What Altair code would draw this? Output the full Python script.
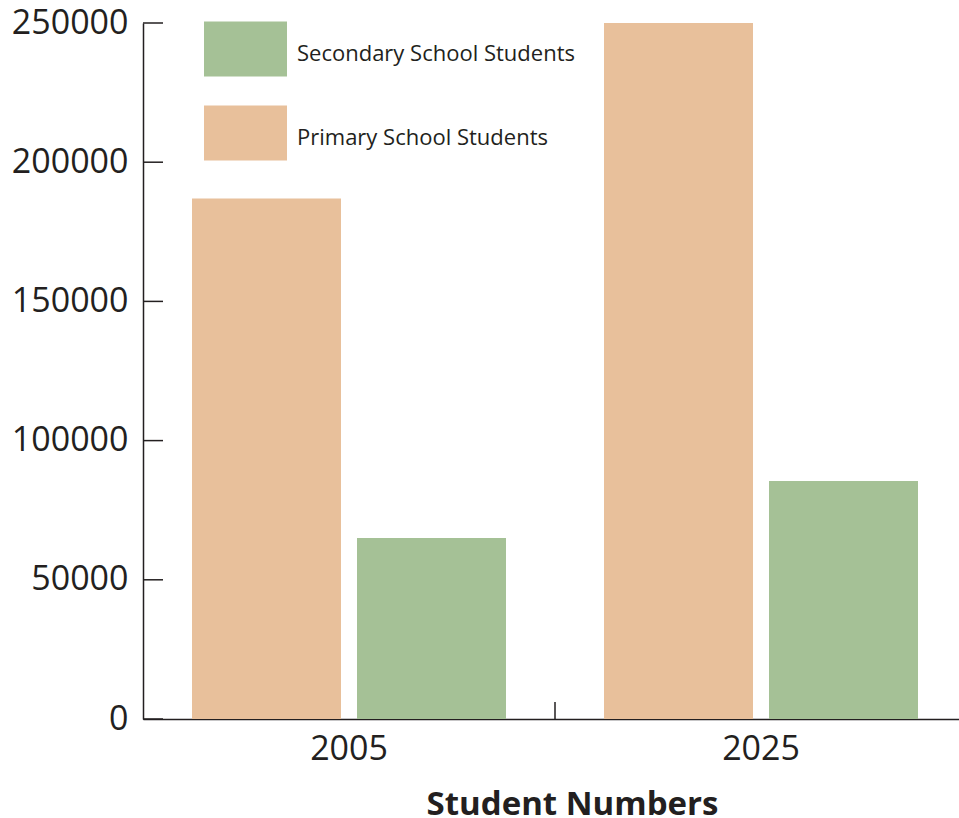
import altair as alt
import pandas as pd

years = ["2005", "2025"]
primary = [187000, 250000]
secondary = [65000, 85500]
series = ["Primary School Students", "Secondary School Students"]
y_ticks = [0, 50000, 100000, 150000, 200000, 250000]

rows = []
for i, yr in enumerate(years):
    rows.append({"year": yr, "series": series[0], "value": primary[i]})
    rows.append({"year": yr, "series": series[1], "value": secondary[i]})
df = pd.DataFrame(rows)

INK = "#231f20"
PEACH = "#e8c09b"
GREEN = "#a5c196"
FONT = "Open Sans"
W, H = 816, 696

x_scale = alt.Scale(domain=years, range=[0, 824], paddingInner=0, paddingOuter=0)
y_scale = alt.Scale(domain=[0, 250000], nice=False)
rect_path = "M-1,-0.771L1,-0.771L1,0.555L-1,0.555Z"

x_axis = alt.Axis(
    title="Student Numbers", domain=True, domainColor=INK, domainWidth=1.5,
    ticks=False, labelAngle=0, labelFont=FONT, labelFontSize=34, labelColor=INK,
    labelPadding=13, titleFont=FONT, titleFontSize=33, titleFontWeight="bold",
    titleColor=INK, titleX=429, titleY=95, titleBaseline="alphabetic",
    titleAlign="center", grid=False)
y_axis = alt.Axis(
    title=None, values=y_ticks, format="d", domain=True, domainColor=INK,
    domainWidth=1.5, ticks=False, labelFont=FONT, labelFontSize=34,
    labelColor=INK, labelPadding=15, grid=False)

bars = alt.Chart(df).mark_bar().encode(
    x=alt.X("year:N", scale=x_scale, axis=x_axis),
    xOffset=alt.XOffset("series:N", scale=alt.Scale(domain=series, paddingInner=0.097, paddingOuter=0.297)),
    y=alt.Y("value:Q", scale=y_scale, axis=y_axis),
    color=alt.Color("series:N", scale=alt.Scale(domain=[series[1], series[0]], range=[GREEN, PEACH]),
        legend=alt.Legend(title=None, orient="none", legendX=61, legendY=-11,
            symbolType=rect_path, symbolSize=6889, symbolStrokeWidth=0, symbolOpacity=1,
            labelFont=FONT, labelFontSize=22, labelColor=INK, labelOffset=10,
            rowPadding=19, padding=0, labelLimit=500)),
)

ytick_df = pd.DataFrame({"value": y_ticks})
yticks = alt.Chart(ytick_df).mark_rule(color=INK, strokeWidth=1.5).encode(
    y=alt.Y("value:Q", scale=y_scale, axis=y_axis),
    x=alt.value(0), x2=alt.value(20),
)

xtick_df = pd.DataFrame({"year": [years[1]]})
xtick = alt.Chart(xtick_df).mark_rule(color=INK, strokeWidth=1.5).encode(
    x=alt.X("year:N", scale=x_scale, bandPosition=0, axis=x_axis),
    y=alt.value(H - 17), y2=alt.value(H),
)

chart = alt.layer(bars, yticks, xtick).properties(
    width=W, height=H,
    autosize=alt.AutoSizeParams(type="none"),
    padding={"left": 143, "top": 23, "right": 0, "bottom": 99},
).configure_view(stroke=None)

chart.save("out.html", embed_options={"renderer": "svg", "actions": False})
